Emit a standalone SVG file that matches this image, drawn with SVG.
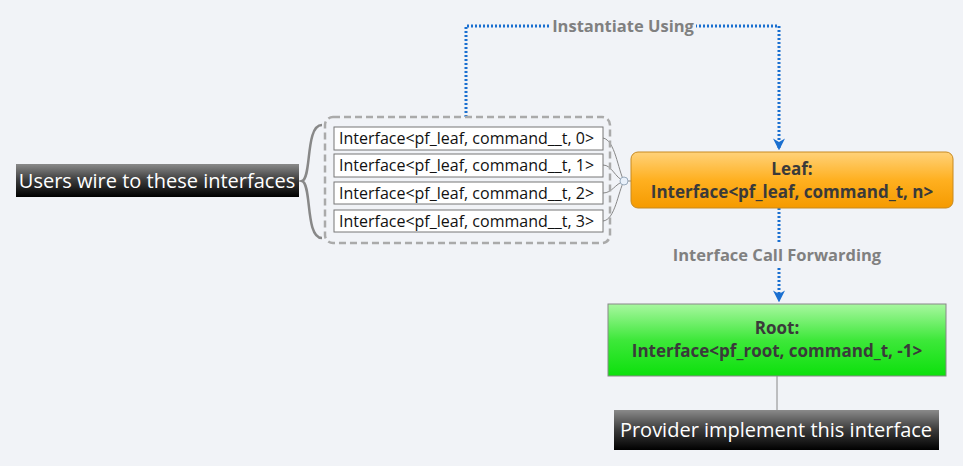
<svg xmlns="http://www.w3.org/2000/svg" width="963" height="466" viewBox="0 0 963 466">
<defs>
<linearGradient id="dark" x1="0" y1="0" x2="0" y2="1"><stop offset="0" stop-color="#8a8a8a"/><stop offset="0.5" stop-color="#3a3a3a"/><stop offset="1" stop-color="#000"/></linearGradient>
<linearGradient id="orange" x1="0" y1="0" x2="0" y2="1"><stop offset="0" stop-color="#ffd27a"/><stop offset="0.5" stop-color="#ffb020"/><stop offset="1" stop-color="#f59a00"/></linearGradient>
<linearGradient id="green" x1="0" y1="0" x2="0" y2="1"><stop offset="0" stop-color="#a8f7a0"/><stop offset="0.5" stop-color="#3ee83a"/><stop offset="1" stop-color="#0ce00c"/></linearGradient>
<marker id="arr" viewBox="0 0 10 10" refX="8" refY="5" markerWidth="4" markerHeight="4" orient="auto"><path d="M0,0 L10,5 L0,10 L3,5 Z" fill="#1a6fd0"/></marker>
</defs>
<style>
.dl{font-family:"Open Sans","Liberation Sans",sans-serif;font-size:20px;fill:#fff}
.it{font-family:"Open Sans","Liberation Sans",sans-serif;font-size:16px;fill:#111}
.bt{font-family:"Open Sans","Liberation Sans",sans-serif;font-size:17px;font-weight:bold;fill:#3a3a3a;text-anchor:middle}
.lab{font-family:"Open Sans","Liberation Sans",sans-serif;font-size:16.5px;font-weight:bold;fill:#808080;text-anchor:middle}
.ib{fill:#fff;stroke:#777;stroke-width:1}
.dot{fill:none;stroke:#1a6fd0;stroke-width:3;stroke-dasharray:2 2}
</style>
<rect width="963" height="466" fill="#f1f3f7"/>
<g id="connectors">
<path class="dot" d="M466,117 V26 H779 V148" marker-end="url(#arr)"/>
<rect x="550" y="16" width="146" height="20" fill="#f1f3f7"/>
<text class="lab" x="623" y="32">Instantiate Using</text>
<path class="dot" d="M779,208 V300" marker-end="url(#arr)"/>
<rect x="670" y="244" width="215" height="22" fill="#f1f3f7"/>
<text class="lab" x="777" y="261">Interface Call Forwarding</text>
<path d="M777,376 V410" stroke="#888" stroke-width="1"/>
<path d="M603,138 C615,140 618,170 624,181 M603,165 C612,165 615,178 624,181 M603,193 C612,193 615,184 624,181 M603,221 C615,220 618,192 624,181 M624,181 H631" fill="none" stroke="#888" stroke-width="1"/>
<path d="M322,125 C305,125 312,178 302,181 C312,184 305,238 322,238" fill="none" stroke="#888" stroke-width="2.5"/>
<circle cx="624" cy="181" r="4" fill="#e8f0fa" stroke="#9ab" stroke-width="1"/>
</g>
<g id="users"><rect x="16" y="164" width="283" height="33" fill="url(#dark)"/><text class="dl" x="157" y="188" text-anchor="middle">Users wire to these interfaces</text></g>
<g id="group"><rect x="325" y="117" width="285" height="126" rx="8" fill="none" stroke="#aaa" stroke-width="2.5" stroke-dasharray="7 4"/></g>
<g id="if0"><rect class="ib" x="334" y="127" width="269" height="23"/><text class="it" x="339" y="144">Interface&lt;pf_leaf, command__t, 0&gt;</text></g>
<g id="if1"><rect class="ib" x="334" y="154" width="269" height="23"/><text class="it" x="339" y="171">Interface&lt;pf_leaf, command__t, 1&gt;</text></g>
<g id="if2"><rect class="ib" x="334" y="182" width="269" height="22"/><text class="it" x="339" y="199">Interface&lt;pf_leaf, command__t, 2&gt;</text></g>
<g id="if3"><rect class="ib" x="334" y="210" width="269" height="22"/><text class="it" x="339" y="227">Interface&lt;pf_leaf, command__t, 3&gt;</text></g>
<g id="leaf"><rect x="631" y="152" width="322" height="56" rx="7" fill="url(#orange)" stroke="#c88a20"/><text class="bt" x="792" y="175">Leaf:</text><text class="bt" x="792" y="198">Interface&lt;pf_leaf, command_t, n&gt;</text></g>
<g id="root"><rect x="608" y="304" width="338" height="72" fill="url(#green)" stroke="#888"/><text class="bt" x="777" y="334">Root:</text><text class="bt" x="777" y="357">Interface&lt;pf_root, command_t, -1&gt;</text></g>
<g id="provider"><rect x="614" y="410" width="325" height="40" fill="url(#dark)"/><text class="dl" x="776" y="437" text-anchor="middle">Provider implement this interface</text></g>
</svg>
